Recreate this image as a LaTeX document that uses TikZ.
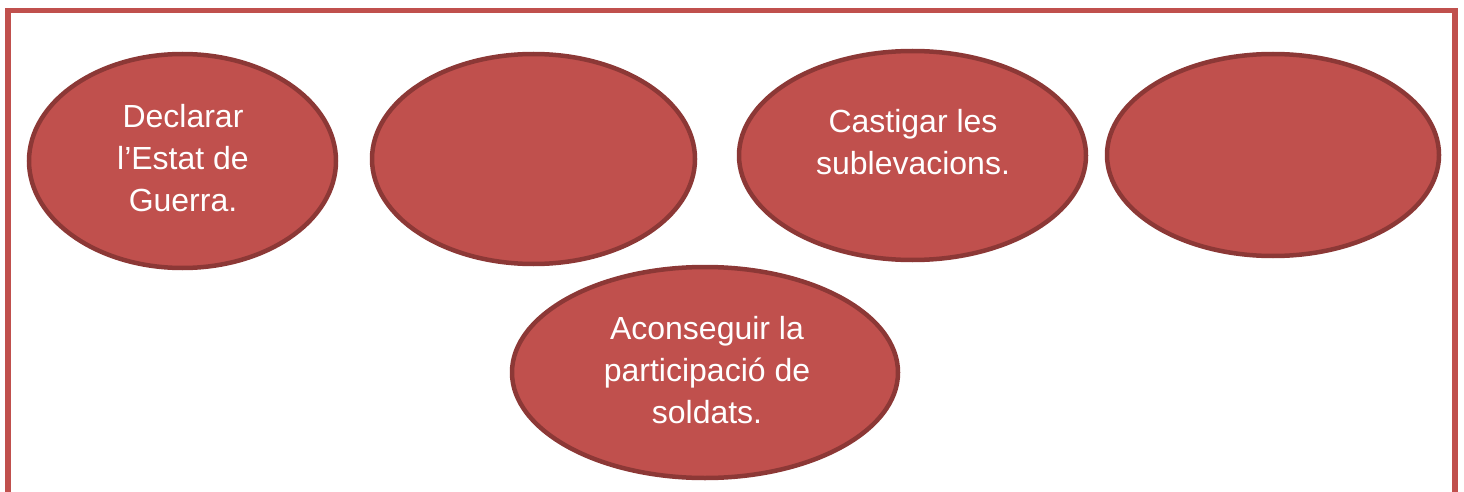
\documentclass[tikz,border=0pt]{standalone}
\usepackage{fontspec}
\setmainfont{Liberation Sans}
\usetikzlibrary{shapes.geometric}

\definecolor{bubblefill}{HTML}{C0504D}
\definecolor{bubbleline}{HTML}{8C3836}
\definecolor{framered}{HTML}{C0504D}

\tikzset{
  bubble/.style={ellipse, draw=bubbleline, fill=bubblefill, line width=4.5pt, inner sep=0pt},
  bubbletext/.style={text=white, align=center, anchor=base, inner sep=0pt,
    font=\fontsize{32}{42}\selectfont}
}

\begin{document}
\begin{tikzpicture}[x=1pt,y=-1pt]

  \clip (0,0) rectangle (1464,492);

  % outer frame, open at the bottom
  \draw[framered, line width=5.5pt] (8,510) -- (8,10.5) -- (1455,10.5) -- (1455,510);

  % top row
  \node[bubble, minimum width=307, minimum height=214] (declarar) at (182.5,161) {};
  \node[bubble, minimum width=323, minimum height=210] (buit1) at (533.5,159) {};
  \node[bubble, minimum width=347, minimum height=209] (castigar) at (912.5,155.5) {};
  \node[bubble, minimum width=332, minimum height=202] (buit2) at (1273,155) {};

  % bottom
  \node[bubble, minimum width=386, minimum height=211] (aconseguir) at (705,372.5) {};

  % texts (anchored on the last baseline)
  \node[bubbletext] (declarartext) at (183,211) {Declarar\\l’Estat de\\Guerra.};
  \node[bubbletext] (castigartext) at (913,175) {Castigar les\\sublevacions.};
  \node[bubbletext] (aconseguirtext) at (707,423) {Aconseguir la\\participació de\\soldats.};

\end{tikzpicture}
\end{document}
